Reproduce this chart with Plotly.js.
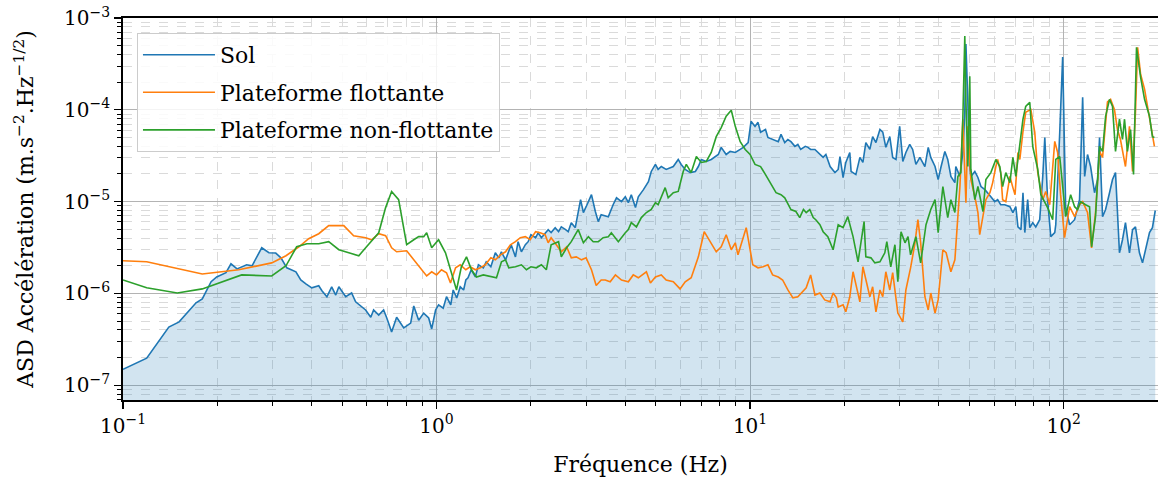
<!DOCTYPE html>
<html>
<head>
<meta charset="utf-8">
<script src="https://cdn.plot.ly/plotly-3.0.1.min.js"></script>
<style>html,body{margin:0;padding:0;background:#fff;}#chart{width:1158px;height:481px;}</style>
</head>
<body>
<div id="chart"></div>
<script>
// ---- Data ----
const freqSol = [0.1,0.119,0.140,0.151,0.171,0.179,0.191,0.199,0.213,0.221,0.231,0.248,0.258,0.277,0.292,0.307,0.319,0.333,0.356,0.369,0.383,0.400,0.421,0.431,0.447,0.463,0.477,0.488,0.513,0.536,0.552,0.577,0.594,0.617,0.630,0.654,0.678,0.694,0.719,0.746,0.786,0.827,0.846,0.877,0.910,0.944,0.965,0.993,
1.015,1.05,1.076,1.11,1.13,1.16,1.19,1.22,1.24,1.26,1.29,1.33,1.36,1.41,1.44,1.49,1.54,1.58,1.61,1.66,1.70,1.73,1.785,1.82,1.865,1.92,1.96,2.0,2.07,2.11,2.16,2.22,2.27,2.32,2.39,2.45,2.50,2.58,2.63,2.69,2.77,2.88,2.94,3.0,3.12,3.21,3.28,3.35,3.53,3.66,3.75,3.89,4.0,4.09,4.18,4.31,4.40,4.57,4.74,4.84,4.99,5.09,5.21,5.40,5.69,5.90,6.03,6.21,6.45,6.69,6.84,6.99,7.25,7.52,7.92,8.09,8.39,8.64,8.97,9.3,9.51,9.86,
10.07,10.37,10.6,10.8,11.2,11.4,11.8,12.3,12.55,12.9,13.2,13.5,13.9,14.2,14.5,15.0,15.3,15.6,16.1,16.5,17.1,17.45,18.0,18.65,19.1,19.35,19.8,20.2,20.8,21.0,21.75,22.4,22.9,23.4,24.1,24.6,25.2,25.95,26.5,27.1,27.9,28.5,29.2,30.0,30.7,31.4,32.3,33.0,33.8,34.8,36.1,37.0,37.7,38.9,39.8,40.6,41.8,42.7,43.7,45.0,45.3,46.7,47.7,48.4,48.8,49.5,50.2,50.6,52.1,53.3,54.5,56.1,57.3,58.6,60.3,61.6,63.0,64.9,67.4,68.9,70.4,71.5,73.1,74.2,75.2,76.8,78.0,79.7,81.5,83.9,85.8,87.1,88.9,91.0,93.7,94.4,97.2,99.3,
100.7,101.5,104.5,108.4,112.4,115.0,116.7,119.2,121.9,125.5,128.3,130.2,133.1,136.1,140.1,143.2,146.4,150.7,154.1,157.5,162.2,165.9,169.5,174.5,178.5,182.5,187.9,192.0,196.0];
const asdSol = [1.49e-7,1.97e-7,4.3e-7,4.9e-7,7.9e-7,8.7e-7,1.34e-6,1.51e-6,1.68e-6,2.1e-6,1.85e-6,2.05e-6,2.0e-6,3.14e-6,2.77e-6,2.75e-6,2.44e-6,1.9e-6,1.72e-6,1.4e-6,1.27e-6,1.15e-6,1.21e-6,1.07e-6,9.2e-7,1.18e-6,9.6e-7,1.18e-6,9.2e-7,1.01e-6,8.1e-7,7.1e-7,6.6e-7,5.5e-7,6.6e-7,5.8e-7,6.6e-7,5.4e-7,3.8e-7,5.5e-7,4.2e-7,4.75e-7,7.3e-7,5.1e-7,6.1e-7,5.4e-7,4.1e-7,6.6e-7,
7.5e-7,6.9e-7,9.2e-7,7.5e-7,1.09e-6,8.9e-7,1.18e-6,1.09e-6,1.4e-6,1.48e-6,1.81e-6,1.51e-6,2.05e-6,1.9e-6,2.21e-6,1.95e-6,2.77e-6,2.44e-6,2.84e-6,2.32e-6,2.99e-6,3.39e-6,2.5e-6,3.66e-6,2.84e-6,3.39e-6,3.66e-6,4.36e-6,4.04e-6,4.58e-6,4.04e-6,4.58e-6,4.95e-6,4.6e-6,5.2e-6,4.7e-6,5.3e-6,4.95e-6,4.7e-6,5.9e-6,5.2e-6,1.05e-5,7.6e-6,8.8e-6,1.19e-5,7.8e-6,6.05e-6,7.2e-6,6.85e-6,9.3e-6,1.1e-5,1.0e-5,1.13e-5,9.75e-6,1.19e-5,8.6e-6,1.13e-5,1.35e-5,1.65e-5,2.13e-5,2.54e-5,2.24e-5,2.41e-5,2.24e-5,2.41e-5,2.88e-5,2.54e-5,2.24e-5,2.07e-5,2.13e-5,2.41e-5,2.88e-5,2.74e-5,2.88e-5,3.26e-5,3.9e-5,3.26e-5,3.52e-5,3.43e-5,3.7e-5,3.9e-5,4.4e-5,
7.5e-5,6.6e-5,7.3e-5,5.7e-5,6.1e-5,5.0e-5,4.75e-5,4.5e-5,5.4e-5,4.4e-5,4.75e-5,4.5e-5,4.0e-5,4.2e-5,3.7e-5,4.0e-5,3.9e-5,3.7e-5,3.7e-5,3.43e-5,3.03e-5,3.26e-5,2.41e-5,2.07e-5,2.24e-5,3.1e-5,1.83e-5,2.67e-5,3.43e-5,2.13e-5,1.97e-5,3.03e-5,2.67e-5,4.4e-5,3.7e-5,5.1e-5,4.4e-5,6.1e-5,5.7e-5,3.9e-5,5.1e-5,3.03e-5,2.88e-5,6.6e-5,2.74e-5,3.43e-5,4.2e-5,3.7e-5,2.54e-5,3.03e-5,2.41e-5,3.9e-5,3.03e-5,2.41e-5,1.74e-5,2.35e-5,3.52e-5,2.88e-5,1.88e-5,1.61e-5,2.41e-5,1.88e-5,3.43e-5,9.4e-5,5.2e-4,1.21e-4,2.41e-5,1.88e-5,2.13e-5,1.83e-5,1.46e-5,1.35e-5,1.25e-5,1.13e-5,1.0e-5,1.05e-5,9.25e-6,9.25e-6,8.8e-6,7.6e-6,8.8e-6,5.3e-6,4.95e-6,1.25e-5,4.6e-6,1.05e-5,5.2e-6,5.9e-6,5.3e-6,6.35e-6,1.88e-5,5.0e-5,1.05e-5,4.15e-6,4.6e-6,5.6e-6,5.7e-5,3.75e-4,
3.43e-5,8.8e-6,5.6e-6,6.35e-6,1.05e-5,1.37e-4,1.88e-5,3.26e-5,2.41e-5,1.25e-5,1.74e-5,5.0e-5,6.85e-6,8.2e-6,1.25e-5,1.74e-5,2.07e-5,2.77e-6,3.84e-6,5.9e-6,2.77e-6,4.95e-6,5.3e-6,2.77e-6,2.15e-6,2.99e-6,4.6e-6,5.2e-6,8.0e-6];

const freqFlot = [0.1,0.119,0.179,0.234,0.298,0.331,0.364,0.391,0.421,0.453,0.506,0.544,0.594,0.621,0.654,0.688,0.719,0.746,0.803,0.846,0.877,0.930,0.965,
1.0,1.037,1.076,1.108,1.15,1.19,1.24,1.28,1.33,1.38,1.43,1.49,1.54,1.60,1.66,1.72,1.785,1.85,1.92,1.99,2.07,2.14,2.22,2.27,2.32,2.41,2.50,2.60,2.69,2.79,2.90,3.0,3.12,3.23,3.35,3.45,3.58,3.72,3.89,4.09,4.24,4.40,4.67,4.81,4.99,5.21,5.40,5.69,5.98,6.21,6.49,6.84,7.14,7.46,7.80,8.09,8.39,8.71,8.97,9.15,9.72,
10.2,10.6,11.0,11.4,11.8,12.3,12.7,13.2,13.7,14.2,15.1,15.6,16.1,16.7,17.3,18.0,18.4,18.85,19.1,19.8,20.2,20.8,21.3,22.4,22.9,24.1,24.6,25.2,25.95,26.5,27.1,27.9,28.5,29.6,30.7,31.4,32.5,33.5,34.3,35.0,36.1,37.0,37.7,38.9,39.8,41.2,42.2,43.7,45.0,46.0,46.7,47.7,48.4,48.8,49.5,50.6,52.1,53.3,54.0,55.3,56.5,58.2,59.4,60.8,61.6,63.0,63.9,65.4,67.4,68.9,70.0,71.5,72.5,74.2,75.7,78.6,80.9,82.7,85.8,87.7,90.3,93.7,95.7,97.8,
100.7,104.5,108.4,112.4,115.0,119.2,122.8,126.4,130.2,133.1,138.0,141.2,145.3,148.5,151.8,157.5,162.2,165.9,169.5,172.2,176.0,181.2,187.9,192.0,194.8];
const asdFlot = [2.27e-6,2.21e-6,1.63e-6,1.81e-6,2.15e-6,2.57e-6,3.22e-6,3.94e-6,4.47e-6,5.47e-6,5.47e-6,4.25e-6,4.04e-6,3.84e-6,4.47e-6,4.25e-6,3.14e-6,2.84e-6,2.91e-6,2.32e-6,2.0e-6,1.55e-6,1.72e-6,
1.59e-6,1.81e-6,1.68e-6,1.3e-6,1.9e-6,2.05e-6,1.81e-6,1.95e-6,1.81e-6,1.9e-6,2.05e-6,2.44e-6,2.32e-6,2.63e-6,2.84e-6,3.39e-6,3.66e-6,4.04e-6,4.15e-6,3.84e-6,4.7e-6,4.58e-6,4.36e-6,3.56e-6,4.04e-6,3.39e-6,2.84e-6,3.22e-6,2.44e-6,2.5e-6,2.32e-6,2.44e-6,1.81e-6,1.22e-6,1.4e-6,1.4e-6,1.34e-6,1.59e-6,1.4e-6,1.34e-6,1.59e-6,1.48e-6,1.72e-6,1.3e-6,1.51e-6,1.59e-6,1.4e-6,1.34e-6,1.12e-6,1.34e-6,1.48e-6,2.5e-6,4.7e-6,3.66e-6,2.84e-6,3.22e-6,4.36e-6,2.99e-6,3.56e-6,2.63e-6,5.2e-6,
2.05e-6,1.9e-6,1.95e-6,2.05e-6,1.59e-6,1.51e-6,1.4e-6,1.09e-6,8.95e-7,9.2e-7,1.15e-6,1.59e-6,9.6e-7,1.01e-6,8.5e-7,8.1e-7,1.01e-6,8.95e-7,7.1e-7,7.5e-7,6.3e-7,9.2e-7,1.72e-6,8.1e-7,1.95e-6,9.2e-7,1.18e-6,6.3e-7,1.09e-6,9.2e-7,1.72e-6,1.09e-6,1.68e-6,6.1e-7,4.9e-7,1.09e-6,1.9e-6,3.39e-6,6.35e-6,3.56e-6,9.2e-7,6.6e-7,1.01e-6,6.1e-7,8.5e-7,2.99e-6,2.77e-6,1.72e-6,2.32e-6,6.35e-6,1.46e-5,7.9e-5,1.74e-5,9.75e-6,6.6e-5,1.74e-5,1.13e-5,7.6e-6,4.36e-6,6.85e-6,1.05e-5,1.25e-5,1.61e-5,2.41e-5,2.88e-5,2.07e-5,1.05e-5,1.0e-5,1.88e-5,1.42e-5,1.19e-5,3.43e-5,2.88e-5,5.8e-5,9.4e-5,1.01e-4,5.7e-5,2.07e-5,1.05e-5,1.29e-5,9.25e-6,4.53e-5,3.43e-5,1.19e-5,
4.04e-6,8.8e-6,6.85e-6,9.25e-6,1.0e-5,7.6e-6,3.14e-6,7.6e-6,3.52e-5,3.03e-5,1.22e-4,1.3e-4,1.0e-4,6.1e-5,4.75e-5,2.41e-5,6.6e-5,2.13e-5,9.4e-5,4.8e-4,2.44e-4,1.68e-4,7.9e-5,5.1e-5,4.0e-5];

const freqNonFlot = [0.1,0.119,0.149,0.179,0.239,0.298,0.331,0.358,0.386,0.421,0.453,0.488,0.525,0.565,0.598,0.654,0.688,0.719,0.757,0.803,0.846,0.877,0.910,0.930,0.965,
1.015,1.068,1.116,1.158,1.20,1.246,1.293,1.341,1.41,1.49,1.553,1.611,1.66,1.70,1.785,1.865,1.935,2.0,2.08,2.16,2.24,2.32,2.39,2.45,2.50,2.60,2.69,2.77,2.83,2.94,3.05,3.16,3.28,3.40,3.53,3.61,3.80,4.0,4.09,4.18,4.34,4.50,4.67,4.84,4.99,5.09,5.21,5.36,5.48,5.69,5.90,6.12,6.26,6.49,6.74,6.99,7.25,7.52,7.80,8.09,8.39,8.71,8.97,9.3,9.65,
10.0,10.37,10.8,11.2,11.7,12.1,12.55,12.9,13.5,14.0,14.4,14.8,15.1,15.5,15.9,16.2,16.7,17.1,17.7,18.4,19.1,19.8,20.5,21.3,22.1,23.1,23.4,24.3,25.0,25.95,26.9,27.3,28.1,28.97,29.6,30.3,31.2,31.9,32.5,33.8,35.0,36.4,37.7,38.9,39.8,41.2,42.7,43.7,45.0,46.0,47.0,47.7,48.4,48.8,49.5,50.2,50.6,52.1,53.3,55.3,56.5,58.6,60.8,62.6,63.9,65.4,67.4,68.9,70.4,72.5,74.2,75.7,78.0,79.7,82.7,84.6,88.9,92.3,94.4,97.2,99.3,
101.5,105.3,108.4,110.8,113.3,117.5,121.0,122.8,126.4,130.2,133.1,136.1,140.1,143.2,146.4,150.7,154.1,156.4,159.8,163.5,167.1,170.8,176.0,181.2,187.9,192.0,194.8];
const asdNonFlot = [1.4e-6,1.15e-6,1.01e-6,1.12e-6,1.59e-6,1.55e-6,2.0e-6,3.22e-6,3.47e-6,3.47e-6,3.66e-6,2.99e-6,2.77e-6,2.57e-6,3.22e-6,4.58e-6,8.6e-6,1.29e-5,1.05e-5,3.39e-6,3.84e-6,4.15e-6,4.15e-6,4.58e-6,3.14e-6,
3.84e-6,2.77e-6,1.68e-6,1.09e-6,1.95e-6,2.5e-6,1.81e-6,1.51e-6,1.59e-6,1.51e-6,1.48e-6,2.21e-6,2.32e-6,1.9e-6,1.95e-6,2.05e-6,1.81e-6,1.95e-6,1.9e-6,2.05e-6,1.81e-6,3.39e-6,3.56e-6,3.66e-6,2.5e-6,3.14e-6,3.66e-6,4.36e-6,4.95e-6,3.56e-6,4.15e-6,3.66e-6,3.66e-6,4.04e-6,4.15e-6,4.58e-6,3.66e-6,4.58e-6,4.95e-6,5.9e-6,5.3e-6,6.7e-6,7.6e-6,8.2e-6,9.75e-6,9.25e-6,1.13e-5,1.42e-5,1.1e-5,1.25e-5,1.29e-5,2.13e-5,2.54e-5,2.07e-5,3.1e-5,2.67e-5,2.74e-5,3.43e-5,5.1e-5,6.4e-5,8.5e-5,9.9e-5,6.6e-5,4.5e-5,3.7e-5,
3.26e-5,2.54e-5,2.41e-5,1.97e-5,1.55e-5,1.25e-5,1.19e-5,1.1e-5,8.2e-6,7.8e-6,6.7e-6,8.2e-6,7.6e-6,8.2e-6,6.7e-6,6.35e-6,5.6e-6,4.7e-6,4.15e-6,2.99e-6,5.6e-6,5.2e-6,6.85e-6,4.15e-6,2.21e-6,6.05e-6,2.5e-6,2.44e-6,2.15e-6,2.21e-6,2.77e-6,3.66e-6,1.95e-6,3.39e-6,1.34e-6,4.7e-6,3.56e-6,4.15e-6,2.63e-6,4.15e-6,2.15e-6,5.6e-6,8.2e-6,1.05e-5,4.58e-6,1.46e-5,6.7e-6,1.05e-5,7.6e-6,1.88e-5,2.07e-5,7.9e-5,6.35e-4,1.21e-4,2.41e-5,2.32e-4,2.24e-5,1.05e-5,1.46e-5,7.8e-6,1.74e-5,2.07e-5,2.88e-5,2.41e-5,1.46e-5,2.07e-5,1.61e-5,3.03e-5,1.88e-5,4.4e-5,7.9e-5,1.09e-4,1.21e-4,4.0e-5,2.24e-5,1.19e-5,8.6e-6,6.35e-6,2.88e-5,3.1e-5,1.46e-5,
6.85e-6,1.19e-5,8.8e-6,8.2e-6,1.0e-5,9.25e-6,8.8e-6,3.22e-6,6.85e-6,4.0e-5,3.52e-5,8.5e-5,1.3e-4,1.09e-4,3.52e-5,7.9e-5,4.75e-5,7.9e-5,3.52e-5,6.1e-5,1.97e-5,4.8e-4,2.27e-4,1.3e-4,8.5e-5,5.1e-5,5.0e-5];

const seriesNames = ['Sol', 'Plateforme flottante', 'Plateforme non-flottante'];
const seriesColors = ['#1f77b4', '#ff7f0e', '#2ca02c'];
const xTickVals = [0.1, 1, 10, 100];
const xTickText = ['10<sup>−1</sup>', '10<sup>0</sup>', '10<sup>1</sup>', '10<sup>2</sup>'];
const yTickVals = [1e-7, 1e-6, 1e-5, 1e-4, 1e-3];
const yTickText = ['10<sup>−7</sup>', '10<sup>−6</sup>', '10<sup>−5</sup>', '10<sup>−4</sup>', '10<sup>−3</sup>'];

const SERIF = "'DejaVu Serif', serif";

// ---- Traces ----
const traces = [
  {x: freqSol, y: asdSol, type: 'scatter', mode: 'lines', fill: 'tozeroy',
   fillcolor: 'rgba(31,119,180,0.2)', line: {width: 0, color: 'rgba(0,0,0,0)'},
   showlegend: false, hoverinfo: 'skip'},
  {x: freqSol, y: asdSol, type: 'scatter', mode: 'lines', name: seriesNames[0],
   legendgroup: 'a', line: {color: seriesColors[0], width: 1.6}},
  {x: freqFlot, y: asdFlot, type: 'scatter', mode: 'lines', name: seriesNames[1],
   legendgroup: 'b', line: {color: seriesColors[1], width: 1.6}},
  {x: freqNonFlot, y: asdNonFlot, type: 'scatter', mode: 'lines', name: seriesNames[2],
   legendgroup: 'c', line: {color: seriesColors[2], width: 1.6}}
];

const axisCommon = {
  type: 'log', ticks: 'outside', ticklen: 7, tickwidth: 1.3, tickcolor: 'black',
  showline: true, linecolor: 'black', linewidth: 1.8,
  showgrid: true, gridcolor: '#b3b3b3', gridwidth: 1.1, zeroline: false,
  tickfont: {family: SERIF, size: 20, color: 'black'},
  minor: {dtick: 'D1', ticks: 'outside', ticklen: 4, tickwidth: 1, tickcolor: 'black',
          showgrid: true, gridcolor: '#dadada', griddash: 'dash', gridwidth: 1}
};

const layout = {
  width: 1158, height: 481,
  margin: {l: 123, r: 0, t: 18, b: 81, pad: 0},
  paper_bgcolor: 'white', plot_bgcolor: 'white',
  font: {family: SERIF, size: 22, color: 'black'},
  showlegend: true,
  legend: {x: 0.0135, y: 0.961, xanchor: 'left', yanchor: 'top',
           bgcolor: 'rgba(255,255,255,0.85)', bordercolor: '#cccccc', borderwidth: 1,
           font: {family: SERIF, size: 22, color: 'black'},
           itemwidth: 72,
           traceorder: 'grouped', tracegroupgap: 6},
  xaxis: Object.assign({}, axisCommon, {
    range: [-1, Math.log10(200)], mirror: true,
    tickmode: 'array', tickvals: xTickVals, ticktext: xTickText,
    title: {text: 'Fréquence (Hz)', standoff: 20, font: {family: SERIF, size: 22, color: 'black'}}
  }),
  yaxis: Object.assign({}, axisCommon, {
    range: [Math.log10(6.9e-8), -3], mirror: false,
    tickmode: 'array', tickvals: yTickVals, ticktext: yTickText,
    title: {text: 'ASD Accélération (m.s<sup>−2</sup>.Hz<sup>−1/2</sup>)', standoff: 24,
            font: {family: SERIF, size: 22, color: 'black'}}
  })
};

Plotly.newPlot('chart', traces, layout, {displayModeBar: false, staticPlot: true});
</script>
</body>
</html>
